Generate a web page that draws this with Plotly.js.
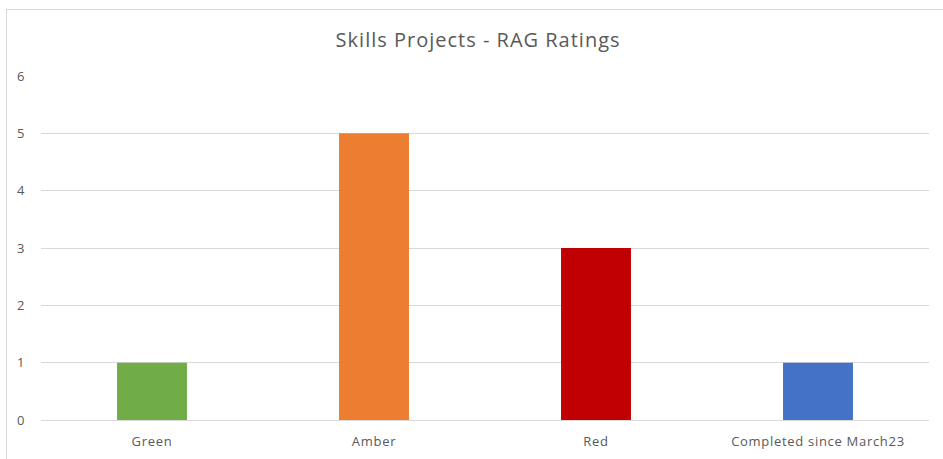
<!DOCTYPE html>
<html>
<head>
<meta charset="utf-8">
<script src="https://cdn.plot.ly/plotly-3.0.1.min.js"></script>
<style>
html,body{margin:0;padding:0;background:#fff;}
#chart{position:absolute;left:0;top:0;width:943px;height:459px;}
#frame{position:absolute;left:6px;top:9px;width:940px;height:460px;border-left:1px solid #d9d9d9;border-top:1px solid #d9d9d9;pointer-events:none;}
#chart .xtick text{letter-spacing:0.7px;}
#chart .ytick text{letter-spacing:0.5px;}
#chart .gtitle{letter-spacing:1px;}
</style>
</head>
<body>
<div id="chart"></div>
<div id="frame"></div>
<script>
const categories = ["Green", "Amber", "Red", "Completed since March23"];
const values = [1, 5, 3, 1];
const barColors = ["#70ad47", "#ed7d31", "#c00000", "#4472c4"];
const yTicks = [0, 1, 2, 3, 4, 5, 6];

const trace = {
  type: "bar",
  x: categories,
  y: values,
  marker: {color: barColors},
  hoverinfo: "x+y"
};

const fam = "'Open Sans', 'Liberation Sans', sans-serif";

const layout = {
  width: 943,
  height: 459,
  margin: {l: 41, r: 14, t: 76, b: 39},
  paper_bgcolor: "#ffffff",
  plot_bgcolor: "#ffffff",
  font: {family: fam, color: "#595959", size: 12},
  title: {
    text: "Skills Projects - RAG Ratings",
    font: {size: 20, color: "#595959", family: fam},
    x: 0.507, xanchor: "center", xref: "container",
    y: 0.913, yanchor: "middle", yref: "container"
  },
  bargap: 0.685,
  showlegend: false,
  xaxis: {
    showgrid: false,
    showline: false,
    zeroline: false,
    ticks: "",
    tickfont: {size: 13, color: "#595959", family: fam},
    ticklabelstandoff: 12
  },
  yaxis: {
    range: [0, 6],
    tickvals: yTicks,
    showgrid: true,
    gridcolor: "#d9d9d9",
    gridwidth: 1,
    zeroline: true,
    zerolinecolor: "#d9d9d9",
    zerolinewidth: 1,
    showline: false,
    ticks: "",
    ticklabelstandoff: 15,
    tickfont: {size: 13, color: "#595959", family: fam}
  }
};

Plotly.newPlot("chart", [trace], layout, {displayModeBar: false, staticPlot: true});
</script>
</body>
</html>
